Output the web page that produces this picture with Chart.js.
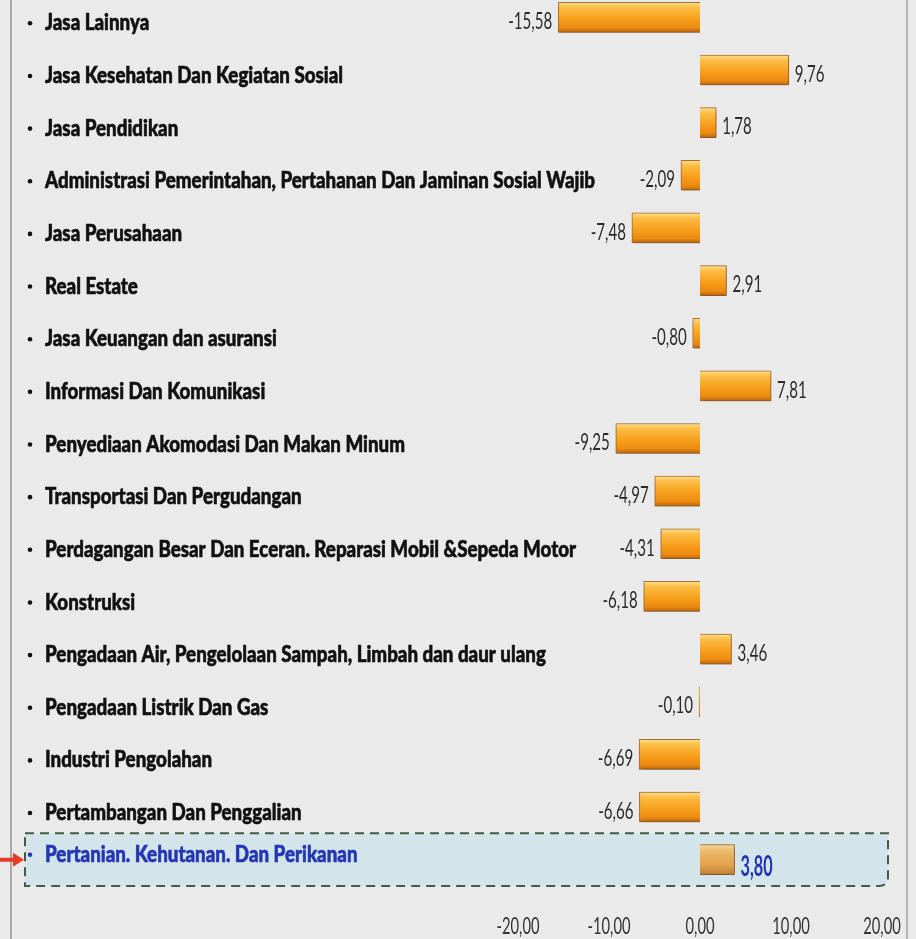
<!DOCTYPE html>
<html>
<head>
<meta charset="utf-8">
<script src="https://cdn.jsdelivr.net/npm/chart.js@4/dist/chart.umd.min.js"></script>
<style>
  html, body { margin: 0; padding: 0; background: #eaeaea; overflow: hidden; }
  #wrap { position: relative; width: 916px; height: 939px; overflow: hidden; }
  #frame { position: absolute; left: 10px; top: 0; width: 894px; height: 939px;
           border-left: 2px solid #a9a9a9; border-right: 2px solid #b5b5b5; }
  #chart { position: absolute; left: 0; top: -12px; }
</style>
</head>
<body>
<div id="wrap">
  <div id="frame"></div>
  <canvas id="chart" width="916" height="951"></canvas>
</div>
<script>
const categories = [
  'Jasa Lainnya',
  'Jasa Kesehatan Dan Kegiatan Sosial',
  'Jasa Pendidikan',
  'Administrasi Pemerintahan, Pertahanan Dan Jaminan Sosial Wajib',
  'Jasa Perusahaan',
  'Real Estate',
  'Jasa Keuangan dan asuransi',
  'Informasi Dan Komunikasi',
  'Penyediaan Akomodasi Dan Makan Minum',
  'Transportasi Dan Pergudangan',
  'Perdagangan Besar Dan Eceran. Reparasi Mobil &Sepeda Motor',
  'Konstruksi',
  'Pengadaan Air, Pengelolaan Sampah, Limbah dan daur ulang',
  'Pengadaan Listrik Dan Gas',
  'Industri Pengolahan',
  'Pertambangan Dan Penggalian',
  'Pertanian. Kehutanan. Dan Perikanan'
];
const growth = [-15.58, 9.76, 1.78, -2.09, -7.48, 2.91, -0.80, 7.81, -9.25, -4.97, -4.31, -6.18, 3.46, -0.10, -6.69, -6.66, 3.80];
const xTicks = [-20, -10, 0, 10, 20];
const highlightIndex = 16;

const catFont = "900 22px Lato, 'Open Sans', sans-serif";
const valFont = "24px Lato, 'Open Sans', sans-serif";
const hiFont = "bold 28px Lato, 'Open Sans', sans-serif";
const fmt = v => v.toFixed(2).replace('.', ',');

// squeezed text, like the original screenshot
function squeezed(c, text, x, y, align, sx, stroke) {
  c.save();
  c.translate(x, y);
  c.scale(sx, 1);
  c.textAlign = align;
  c.fillText(text, 0, 0);
  if (stroke) {
    c.lineWidth = stroke;
    c.strokeStyle = c.fillStyle;
    c.strokeText(text, 0, 0);
  }
  c.restore();
}

function barGradient(ctx) {
  const chart = ctx.chart;
  const y = chart.scales.y;
  if (ctx.type !== 'data' || !y) return '#f5a020';
  const cy = y.getPixelForValue(ctx.dataIndex);
  if (!isFinite(cy)) return '#f5a020';
  const g = chart.ctx.createLinearGradient(0, cy - 15, 0, cy + 15);
  if (ctx.dataIndex === highlightIndex) {
    g.addColorStop(0, '#f4d69c');
    g.addColorStop(0.25, '#ebb766');
    g.addColorStop(0.7, '#e0a04a');
    g.addColorStop(1, '#b98033');
  } else {
    g.addColorStop(0, '#fde08f');
    g.addColorStop(0.18, '#fbbd45');
    g.addColorStop(0.55, '#f79f1c');
    g.addColorStop(0.85, '#ec8a10');
    g.addColorStop(1, '#b8650c');
  }
  return g;
}

const decor = {
  id: 'decor',
  beforeDraw(chart) {
    const c = chart.ctx;
    const y = chart.scales.y;
    const step = y.getPixelForValue(1) - y.getPixelForValue(0);
    const cy = y.getPixelForValue(highlightIndex);
    const top = cy - step / 2, bot = cy + step / 2;
    const left = 25, right = 888, r = 9;
    c.save();
    c.beginPath();
    c.moveTo(left, top);
    c.lineTo(right, top);
    c.lineTo(right, bot - r);
    c.quadraticCurveTo(right, bot, right - r, bot);
    c.lineTo(left, bot);
    c.closePath();
    c.fillStyle = '#d3e4ea';
    c.fill();
    c.setLineDash([9, 6]);
    c.lineWidth = 2;
    c.strokeStyle = '#435a44';
    c.stroke();
    c.setLineDash([]);
    // red arrow
    c.fillStyle = '#e63a2a';
    c.beginPath();
    c.moveTo(0, cy - 2);
    c.lineTo(13, cy - 2);
    c.lineTo(13, cy - 7);
    c.lineTo(24, cy);
    c.lineTo(13, cy + 7);
    c.lineTo(13, cy + 2);
    c.lineTo(0, cy + 2);
    c.closePath();
    c.fill();

    // category labels, drawn from the y scale
    c.font = catFont;
    c.textBaseline = 'middle';
    const longest = categories.reduce((a, b) => c.measureText(b).width > c.measureText(a).width ? b : a);
    const sx = 550 / c.measureText(longest).width;
    categories.forEach((label, i) => {
      const hi = i === highlightIndex;
      const ly = y.getPixelForValue(i) + (hi ? -5 : 6);
      c.fillStyle = hi ? '#2436b4' : '#111111';
      c.beginPath();
      c.arc(30, ly, 2.3, 0, Math.PI * 2);
      c.fill();
      squeezed(c, label, 45, ly, 'left', sx, 0.6);
    });

    // x axis tick labels, from the x scale
    const x = chart.scales.x;
    c.font = valFont;
    const tsx = 43 / c.measureText('-20,00').width;
    c.fillStyle = '#333';
    x.ticks.forEach(t => {
      squeezed(c, fmt(t.value), x.getPixelForValue(t.value), 938, 'center', tsx);
    });
    c.restore();
  },
  beforeDatasetsDraw(chart) {
    const c = chart.ctx;
    c.save();
    c.shadowColor = 'rgba(60,40,20,0.45)';
    c.shadowBlur = 4;
    c.shadowOffsetX = 1;
    c.shadowOffsetY = 2;
  },
  afterDatasetsDraw(chart) {
    const c = chart.ctx;
    c.restore();
    const meta = chart.getDatasetMeta(0);
    c.save();
    c.textBaseline = 'middle';
    c.font = valFont;
    const vsx = 44 / c.measureText('-15,58').width;
    c.font = hiFont;
    const hsx = 32 / c.measureText('3,80').width;
    meta.data.forEach((el, i) => {
      const v = growth[i];
      const hi = i === highlightIndex;
      c.font = hi ? hiFont : valFont;
      c.fillStyle = hi ? '#2233b0' : '#2a2a2a';
      const ty = el.y + (hi ? 7 : 4);
      if (v < 0) {
        squeezed(c, fmt(v), el.x - 6, ty, 'right', vsx);
      } else {
        squeezed(c, fmt(v), el.x + 6, ty, 'left', hi ? hsx : vsx);
      }
    });
    c.restore();
  }
};

new Chart(document.getElementById('chart'), {
  type: 'bar',
  data: {
    labels: categories,
    datasets: [{
      data: growth,
      backgroundColor: barGradient,
      borderColor: 'rgba(165,85,12,0.8)',
      borderWidth: 1,
      barThickness: 30
    }]
  },
  options: {
    indexAxis: 'y',
    responsive: false,
    animation: false,
    layout: { padding: { left: 518, right: 34, top: 3, bottom: 53 } },
    plugins: { legend: { display: false }, tooltip: { enabled: false } },
    scales: {
      y: {
        display: false
      },
      x: {
        min: -20,
        max: 20,
        grid: { display: false, drawTicks: false },
        border: { display: false },
        afterBuildTicks: s => { s.ticks = xTicks.map(v => ({ value: v })); },
        ticks: { display: false }
      }
    }
  },
  plugins: [decor]
});
</script>
</body>
</html>
